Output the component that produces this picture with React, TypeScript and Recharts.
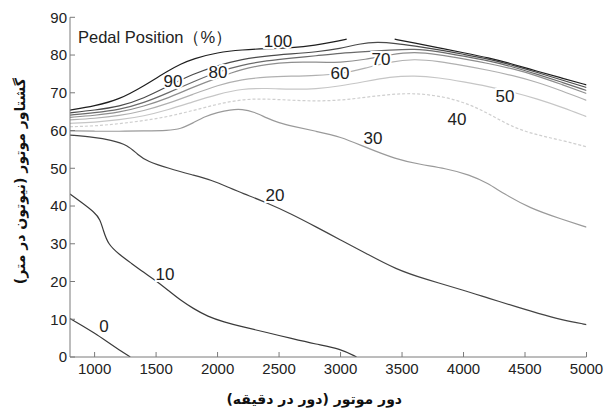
import { LineChart, Line, XAxis, YAxis, ReferenceDot } from 'recharts';

type Pt = [number, number | null];

const RPM_TICKS = [1000, 1500, 2000, 2500, 3000, 3500, 4000, 4500, 5000];
const TORQUE_TICKS = [0, 10, 20, 30, 40, 50, 60, 70, 80, 90];

// [rpm, torque N·m] along each constant pedal-position contour
const pedal0: Pt[] = [[800, 10.2], [900, 8.3], [1000, 6.3], [1100, 4.1], [1200, 1.9], [1290, 0]];
const pedal10: Pt[] = [
  [800, 43.2], [900, 40.8], [1000, 38.3], [1045, 36.5], [1070, 33.6], [1110, 29.8], [1200, 27.2],
  [1300, 24.8], [1400, 22.4], [1500, 20.2], [1600, 17.6], [1700, 15], [1800, 12.9], [1920, 10.7],
  [2050, 9.3], [2200, 8], [2400, 6.5], [2600, 4.9], [2800, 3.4], [3000, 2.2], [3130, 0]
];
const pedal20: Pt[] = [
  [800, 58.8], [1000, 58.2], [1130, 57.5], [1270, 56.2], [1350, 53.6], [1430, 51.8], [1600, 50],
  [1800, 48.2], [1950, 46.9], [2100, 44.8], [2200, 43.4], [2400, 40.9], [2600, 37.9], [2800, 34.5],
  [3000, 31], [3200, 27.6], [3450, 23.2], [3700, 20.5], [4000, 17.7], [4200, 15.6], [4450, 13.1],
  [4600, 11.6], [4800, 9.8], [5000, 8.6]
];
const pedal30: Pt[] = [
  [800, 59.9], [1000, 59.8], [1200, 59.8], [1400, 59.9], [1600, 60], [1700, 60.4], [1800, 62],
  [1900, 63.8], [2000, 64.8], [2100, 65.5], [2200, 65.7], [2300, 64.9], [2400, 63.3], [2500, 62],
  [2600, 61.2], [2800, 59.8], [3000, 58.4], [3200, 55.6], [3450, 52.4], [3650, 51], [3850, 50],
  [4050, 48.3], [4200, 46], [4320, 43.4], [4540, 39.4], [4800, 36.5], [5000, 34.4]
];
const pedal40: Pt[] = [
  [800, 61], [1000, 61.2], [1200, 61.8], [1400, 62.6], [1600, 63.7], [1800, 65.3], [2000, 67],
  [2200, 68.3], [2400, 68.4], [2600, 68], [2800, 67.8], [3000, 68], [3200, 68.8], [3400, 69.6],
  [3600, 69.9], [3800, 69.2], [4000, 67.6], [4200, 64.6], [4400, 60.8], [4600, 58.8], [4800, 57.4],
  [5000, 55.7]
];
const pedal50: Pt[] = [
  [800, 61.9], [1000, 62.2], [1200, 62.8], [1400, 63.8], [1600, 65.5], [1800, 67.6], [2000, 69.6],
  [2200, 71.1], [2400, 71.2], [2600, 70.9], [2800, 71], [3000, 71.8], [3200, 73], [3400, 74.2],
  [3600, 74.6], [3800, 74], [4000, 72.9], [4200, 71.7], [4400, 70.2], [4600, 68.4], [4800, 66.2],
  [5000, 63.7]
];
const pedal60: Pt[] = [
  [800, 62.8], [1000, 63.2], [1200, 63.9], [1400, 65.2], [1600, 67.2], [1800, 69.6], [2000, 72],
  [2200, 73.6], [2400, 74.2], [2600, 74.4], [2800, 74.6], [3000, 75], [3200, 76.5], [3400, 78.2],
  [3600, 79], [3800, 78.3], [4000, 77.2], [4200, 76], [4400, 74.6], [4600, 72.8], [4800, 70.5],
  [5000, 68]
];
const pedal70: Pt[] = [
  [800, 63.5], [1000, 64], [1200, 64.8], [1400, 66.4], [1600, 68.6], [1800, 71.5], [2000, 74],
  [2200, 76.3], [2400, 77.6], [2600, 78.2], [2800, 78.1], [3000, 78], [3200, 78.8], [3400, 80.1],
  [3600, 80.9], [3800, 80.1], [4000, 79], [4200, 77.8], [4400, 76.4], [4600, 74.5], [4800, 72.2],
  [5000, 69.8]
];
const pedal80: Pt[] = [
  [800, 64.1], [1000, 64.7], [1200, 65.5], [1400, 67.3], [1600, 70], [1800, 72.9], [2000, 75.6],
  [2200, 77.4], [2400, 78.5], [2600, 79.2], [2800, 79.8], [3000, 80.5], [3200, 80.9], [3400, 81.3],
  [3600, 81.7], [3800, 80.9], [4000, 79.7], [4200, 78.5], [4400, 76.9], [4600, 74.9], [4800, 72.8],
  [5000, 70.6]
];
const pedal90: Pt[] = [
  [800, 64.7], [1000, 65.4], [1200, 66.3], [1400, 68.5], [1600, 71.8], [1800, 75], [2000, 77.2],
  [2200, 78.9], [2400, 79.8], [2600, 80.3], [2800, 80.8], [3000, 81.7], [3150, 83], [3300, 83.5],
  [3450, 83.1], [3600, 82.4], [3800, 81.4], [4000, 80.2], [4200, 79], [4400, 77.3], [4600, 75.4],
  [4800, 73.4], [5000, 71.4]
];
// full-pedal contour has a break around 3250 rpm
const pedal100: Pt[] = [
  [800, 65.4], [1000, 66.5], [1200, 68.2], [1400, 71.8], [1600, 75.9], [1700, 77.6], [1800, 79],
  [2000, 80.7], [2200, 81.4], [2400, 81.7], [2600, 81.9], [2800, 82.6], [2950, 83.5], [3050, 84.2],
  [3250, null], [3440, 84.2], [3600, 83.2], [3800, 81.9], [4000, 80.6], [4200, 79.3], [4400, 77.6],
  [4600, 75.7], [4800, 73.9], [5000, 72.1]
];

const CONTOURS = [
  { level: 0, points: pedal0, color: '#3a3a3a' },
  { level: 10, points: pedal10, color: '#3a3a3a' },
  { level: 20, points: pedal20, color: '#444444' },
  { level: 30, points: pedal30, color: '#9a9a9a' },
  { level: 40, points: pedal40, color: '#cfcfcf', dash: '3 2' },
  { level: 50, points: pedal50, color: '#c6c6c6' },
  { level: 60, points: pedal60, color: '#b0b0b0' },
  { level: 70, points: pedal70, color: '#8e8e8e' },
  { level: 80, points: pedal80, color: '#6a6a6a' },
  { level: 90, points: pedal90, color: '#4a4a4a' },
  { level: 100, points: pedal100, color: '#1e1e1e' }
];

// where each level's number is written
const LABEL_LEVELS = [100, 90, 80, 70, 60, 50, 40, 30, 20, 10, 0];
const LABEL_RPM = [2491, 1637, 2003, 3328, 2995, 4337, 3946, 3263, 2467, 1572, 1076];
const LABEL_NM = [83.6, 73.1, 75.5, 78.8, 75, 68.9, 62.8, 58, 42.7, 21.8, 8];

const FONT = '"Liberation Sans", Arial, sans-serif';
const AXIS_GRAY = '#7a7a7a';

const LevelText = ({ cx, cy, text }: any) => (
  <text
    x={cx}
    y={cy}
    textAnchor="middle"
    dominantBaseline="central"
    fontFamily={FONT}
    fontSize={17}
    fill="#222"
    stroke="#fff"
    strokeWidth={4}
    paintOrder="stroke"
  >
    {text}
  </text>
);

const XTitle = ({ viewBox }: any) => (
  <text
    x={viewBox.x + viewBox.width / 2 - 14}
    y={viewBox.y + 42}
    textAnchor="middle"
    dominantBaseline="central"
    direction="rtl"
    fontFamily='"DejaVu Sans", sans-serif'
    fontWeight="bold"
    fontSize={14}
    fill="#111"
  >
    دور موتور (دور در دقیقه)
  </text>
);

const YTitle = ({ viewBox }: any) => {
  const x = 20;
  const y = viewBox.y + viewBox.height / 2 - 6;
  return (
    <text
      x={x}
      y={y}
      transform={`rotate(-90 ${x} ${y})`}
      textAnchor="middle"
      dominantBaseline="central"
      direction="rtl"
      fontFamily='"DejaVu Sans", sans-serif'
      fontWeight="bold"
      fontSize={14}
      fill="#111"
    >
      گشتاور موتور (نیوتون در متر)
    </text>
  );
};

export default function App() {
  const tickStyle = { fill: '#222', fontSize: 15, fontFamily: FONT };
  return (
    <div style={{ position: 'absolute', left: 0, top: 0, background: '#fff' }}>
      <LineChart width={613} height={412} margin={{ top: 17.3, right: 26.5, bottom: 0, left: 0 }}>
        <XAxis
          xAxisId="b"
          type="number"
          dataKey="rpm"
          domain={[800, 5000]}
          ticks={RPM_TICKS}
          allowDataOverflow
          height={55}
          stroke={AXIS_GRAY}
          tickSize={-5}
          tickMargin={11}
          tick={tickStyle}
          label={<XTitle />}
        />
        <XAxis
          xAxisId="t"
          orientation="top"
          type="number"
          domain={[800, 5000]}
          ticks={RPM_TICKS}
          allowDataOverflow
          height={0}
          stroke={AXIS_GRAY}
          tickSize={-5}
          tick={false}
        />
        <YAxis
          yAxisId="l"
          type="number"
          domain={[0, 90]}
          ticks={TORQUE_TICKS}
          allowDataOverflow
          width={70}
          stroke={AXIS_GRAY}
          tickSize={-5}
          tickMargin={8}
          tick={tickStyle}
          label={<YTitle />}
        />
        <YAxis
          yAxisId="r"
          orientation="right"
          type="number"
          domain={[0, 90]}
          ticks={TORQUE_TICKS}
          allowDataOverflow
          width={0}
          stroke={AXIS_GRAY}
          tickSize={-5}
          tick={false}
        />
        {CONTOURS.map((c) => (
          <Line
            key={c.level}
            xAxisId="b"
            yAxisId="l"
            data={c.points.map(([rpm, nm]) => ({ rpm, nm }))}
            dataKey="nm"
            type="basis"
            stroke={c.color}
            strokeWidth={1.2}
            strokeDasharray={c.dash}
            dot={false}
            activeDot={false}
            isAnimationActive={false}
          />
        ))}
        {LABEL_LEVELS.map((lvl, i) => (
          <ReferenceDot
            key={lvl}
            xAxisId="b"
            yAxisId="l"
            x={LABEL_RPM[i]}
            y={LABEL_NM[i]}
            r={0}
            shape={(p: any) => <LevelText cx={p.cx} cy={p.cy} text={String(lvl)} />}
          />
        ))}
      </LineChart>
      <div
        style={{
          position: 'absolute',
          left: 78,
          top: 27,
          fontFamily: FONT,
          fontSize: 16.5,
          color: '#222',
          whiteSpace: 'nowrap'
        }}
      >
        Pedal Position（%）
      </div>
    </div>
  );
}
